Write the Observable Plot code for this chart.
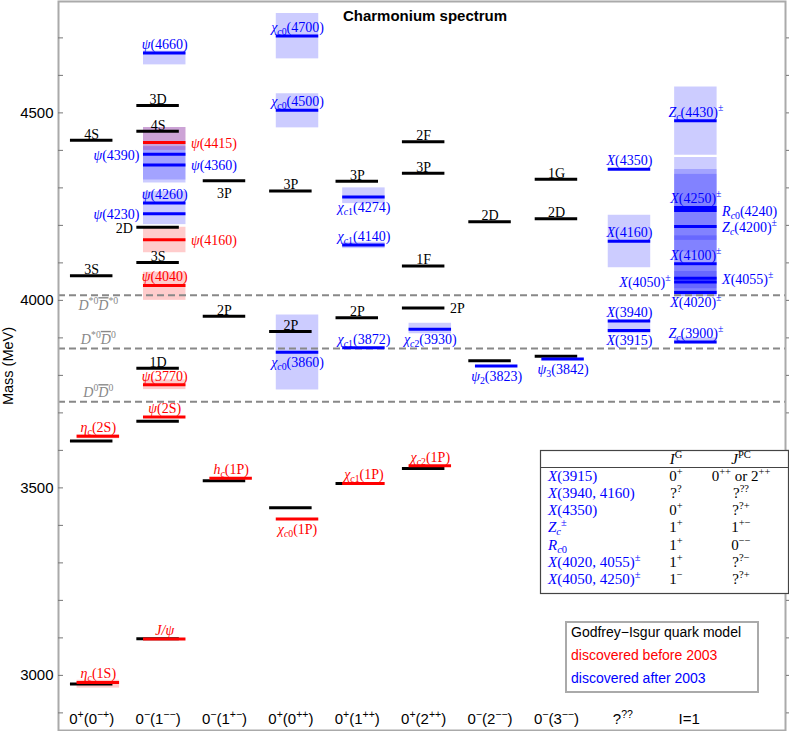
<!DOCTYPE html>
<html><head><meta charset="utf-8">
<script src="https://cdn.jsdelivr.net/npm/d3@7"></script>
<script src="https://cdn.jsdelivr.net/npm/@observablehq/plot@0.6"></script>
<style>
body{margin:0;background:#fff;}
#chart{position:relative;width:789px;height:731px;}
</style></head><body><div id="chart"></div>
<script>
// Markup: ~..~ italic, #..# overline, _{..} subscript, ^{..} superscript
const columns = ["0^{+}(0^{−+})", "0^{−}(1^{−−})", "0^{−}(1^{+−})", "0^{+}(0^{++})", "0^{+}(1^{++})",
  "0^{+}(2^{++})", "0^{−}(2^{−−})", "0^{−}(3^{−−})", "?^{??}", "I=1"];

// Godfrey–Isgur quark model: [column, mass MeV, label, label side]
const models = [
  [1, 4427, "4S", "a"], [1, 4066, "3S", "a"], [1, 3625, "", ""], [1, 2977, "", ""],
  [2, 4520, "3D", "a"], [2, 4451, "4S", "a"], [2, 4195, "2D", "l"], [2, 4101, "3S", "a"],
  [2, 3819, "1D", "a"], [2, 3678, "", ""], [2, 3098, "", ""],
  [3, 4319, "3P", "b"], [3, 3958, "2P", "a"], [3, 3519, "", ""],
  [4, 4292, "3P", "a"], [4, 3917, "2P", "a"], [4, 3447, "", ""],
  [5, 4318, "3P", "a"], [5, 3954, "2P", "a"], [5, 3512, "", ""],
  [6, 4423, "2F", "a"], [6, 4339, "3P", "a"], [6, 4092, "1F", "a"], [6, 3980, "2P", "r"], [6, 3552, "", ""],
  [7, 4210, "2D", "a"], [7, 3839, "", ""],
  [8, 4323, "1G", "a"], [8, 4218, "2D", "a"], [8, 3851, "", ""]
];

// discovered before 2003
const pre2003 = [
  [1, 3638, "~η~_{~c~}(2S)", "a"], [1, 2981, "~η~_{~c~}(1S)", "a"],
  [2, 4421, "~ψ~(4415)", "r"], [2, 4162, "~ψ~(4160)", "r"], [2, 4040, "~ψ~(4040)", "a"],
  [2, 3775, "~ψ~(3770)", "a"], [2, 3689, "~ψ~(2S)", "a"], [2, 3097, "~J/ψ~", "a"],
  [3, 3526, "~h~_{~c~}(1P)", "a"],
  [4, 3417, "~χ~_{~c~0}(1P)", "b"],
  [5, 3512, "~χ~_{~c~1}(1P)", "a"],
  [6, 3559, "~χ~_{~c~2}(1P)", "a"]
];

// discovered after 2003
const post2003 = [
  [2, 4660, "~ψ~(4660)", "a"], [2, 4390, "~ψ~(4390)", "l"], [2, 4361, "~ψ~(4360)", "r"],
  [2, 4260, "~ψ~(4260)", "a"], [2, 4231, "~ψ~(4230)", "l"],
  [4, 4705, "~χ~_{~c~0}(4700)", "a"], [4, 4507, "~χ~_{~c~0}(4500)", "a"], [4, 3862, "~χ~_{~c~0}(3860)", "b"],
  [5, 4276, "~χ~_{~c~1}(4274)", "b"], [5, 4148, "~χ~_{~c~1}(4140)", "a"], [5, 3874, "~χ~_{~c~1}(3872)", "a"],
  [6, 3923, "~χ~_{~c~2}(3930)", "b"],
  [7, 3825, "~ψ~_{2}(3823)", "b"],
  [8, 3844, "~ψ~_{3}(3842)", "b"],
  [9, 4350, "~X~(4350)", "a"], [9, 4158, "~X~(4160)", "a"], [9, 3945, "~X~(3940)", "a"], [9, 3920, "~X~(3915)", "b"],
  [10, 4479, "~Z~_{~c~}(4430)^{±}", "a"], [10, 4248, "~X~(4250)^{±}", "a"], [10, 4240, "~R~_{~c~0}(4240)", "r"],
  [10, 4197, "~Z~_{~c~}(4200)^{±}", "r"], [10, 4098, "~X~(4100)^{±}", "a"], [10, 4059, "~X~(4055)^{±}", "r"],
  [10, 4049, "~X~(4050)^{±}", "l"], [10, 4021, "~X~(4020)^{±}", "b"], [10, 3889, "~Z~_{~c~}(3900)^{±}", "a"]
];

// mass ranges (widths): [column, low, high]
const redBands = [
  [1, 2966, 2987], [1, 3631, 3642], [2, 4400, 4461], [2, 4127, 4195], [2, 4000, 4075], [2, 3762, 3788]
];
const blueBands = [
  [2, 4628, 4665], [2, 4321, 4461], [2, 4313, 4410], [2, 4202, 4290],
  [4, 4644, 4765], [4, 4460, 4551], [4, 3761, 3961],
  [5, 4258, 4300], [5, 4138, 4155], [6, 3911, 3939],
  [9, 4087, 4227], [9, 3911, 3947],
  [10, 4387, 4569], [10, 4011, 4381], [10, 4129, 4349], [10, 4160, 4336], [10, 4020, 4172],
  [10, 4031, 4077], [10, 4010, 4092], [10, 4017, 4025], [10, 3884, 3900]
];

// open-charm thresholds: [mass, label, side]
const thresholds = [
  [4014, "~D~^{*0}~#D#~^{*0}", "b"], [3872, "~D~^{*0}~#D#~^{0}", "a"], [3730, "~D~^{0}~#D#~^{0}", "a"]
];

const yLabels = [3000, 3500, 4000, 4500];
const yMinor = d3.range(2900, 4800, 100);

const tableHeader = ["~I~^{G}", "~J~^{PC}"];
const tableRows = [
  ["~X~(3915)", "0^{+}", "0^{++} or 2^{++}"],
  ["~X~(3940, 4160)", "?^{?}", "?^{??}"],
  ["~X~(4350)", "0^{+}", "?^{?+}"],
  ["~Z~_{~c~}^{±}", "1^{+}", "1^{+−}"],
  ["~R~_{~c~0}", "1^{+}", "0^{−−}"],
  ["~X~(4020, 4055)^{±}", "1^{+}", "?^{?−}"],
  ["~X~(4050, 4250)^{±}", "1^{−}", "?^{?+}"]
];
const legendItems = [["Godfrey−Isgur quark model", "black"], ["discovered before 2003", "red"], ["discovered after 2003", "blue"]];

const HW = 0.32, OFF = 0.1;
const SERIF = "'Liberation Serif','Times New Roman',serif";
const SANS = "'Liberation Sans',Arial,Helvetica,sans-serif";

const toObj = (rows, group) => rows.map(([col, mass, label, pos]) => ({col, mass, label, pos, group}));
const black = toObj(models, "model"), red = toObj(pre2003, "pre"), blue = toObj(post2003, "post");
const xc = d => d.group === "model" ? d.col : d.col + OFF;

function labelMarks(data, fill) {
  const isModel = data[0].group === "model";
  const f = p => data.filter(d => d.label && d.pos === p);
  const common = {y: "mass", text: "label", fill, fontSize: 14, fontFamily: SERIF};
  return [
    Plot.text(f("a"), {...common, x: xc, dy: isModel ? -6 : -8.5}),
    Plot.text(f("b"), {...common, x: xc, dy: isModel ? 12.5 : 10.5}),
    Plot.text(f("l"), {...common, x: d => xc(d) - HW, textAnchor: "end", dx: -4, dy: 1}),
    Plot.text(f("r"), {...common, x: d => xc(d) + HW, textAnchor: "start", dx: 5, dy: 1})
  ];
}
const bars = (data, stroke) => Plot.ruleY(data, {y: "mass", x1: d => xc(d) - HW, x2: d => xc(d) + HW, stroke, strokeWidth: 3});
const bandRects = (data, fill) => Plot.rect(data, {x1: d => d[0] + OFF - HW, x2: d => d[0] + OFF + HW, y1: d => d[1], y2: d => d[2], fill, fillOpacity: 0.2});

const chart = Plot.plot({
  width: 789, height: 731,
  marginLeft: 58, marginRight: 4, marginTop: 1, marginBottom: 1,
  x: {domain: [0.5, 11.45], axis: null},
  y: {domain: [2853, 4797]},
  style: {background: "white", fontFamily: SANS},
  marks: [
    bandRects(redBands, "red"),
    bandRects(blueBands, "blue"),
    Plot.ruleY(thresholds, {y: d => d[0], stroke: "#888", strokeWidth: 2, strokeDasharray: "7,4"}),
    bars(black, "black"), bars(red, "red"), bars(blue, "blue"),
    ...labelMarks(black, "black"), ...labelMarks(red, "red"), ...labelMarks(blue, "blue"),
    Plot.text(thresholds.filter(d => d[2] === "a"), {x: () => 1 + OFF, y: d => d[0], text: d => d[1], fill: "#888", fontSize: 14, fontFamily: SERIF, dy: -9}),
    Plot.text(thresholds.filter(d => d[2] === "b"), {x: () => 1 + OFF, y: d => d[0], text: d => d[1], fill: "#888", fontSize: 14, fontFamily: SERIF, dy: 10.5}),
    Plot.text(columns, {x: (d, i) => i + 1, text: d => d, frameAnchor: "bottom", lineAnchor: "middle", dy: -11, fontSize: 15, fontFamily: SANS, fill: "black"}),
    Plot.text(["Charmonium spectrum"], {frameAnchor: "top", lineAnchor: "middle", dy: 15, dx: 3, fontWeight: "bold", fontSize: 15, fontFamily: SANS, fill: "black"}),
    Plot.frame({stroke: "#aaa", strokeWidth: 2}),
    Plot.axisY({ticks: yLabels, tickSize: 0, tickPadding: 5, tickFormat: d => String(d), fontSize: 15, fontFamily: SANS, label: null}),
    Plot.axisY({ticks: yMinor, tickSize: 5, insetLeft: 5, tickFormat: () => "", label: null, stroke: "#777"}),
    Plot.axisY({anchor: "right", ticks: yMinor, tickSize: 4, tickFormat: () => "", label: null, stroke: "#777"})
  ]
});
document.getElementById("chart").appendChild(chart);

// ---- markup rendering ----
function parse(str, sh = null, state = {it: false, ov: false}, out = []) {
  let buf = "";
  const flush = () => { if (buf) out.push({t: buf, it: state.it, ov: state.ov, sh}); buf = ""; };
  for (let i = 0; i < str.length; i++) {
    const c = str[i];
    if (c === "~") { flush(); state.it = !state.it; }
    else if (c === "#") { flush(); state.ov = !state.ov; }
    else if ((c === "_" || c === "^") && str[i + 1] === "{") {
      flush();
      const j = str.indexOf("}", i + 2);
      parse(str.slice(i + 2, j), c === "_" ? "sub" : "sup", state, out);
      i = j;
    } else buf += c;
  }
  flush();
  return out;
}
const NS = "http://www.w3.org/2000/svg";
function renderSVG(el, str) {
  const fs = parseFloat(getComputedStyle(el).fontSize) || 14;
  el.textContent = "";
  for (const s of parse(str)) {
    const t = document.createElementNS(NS, "tspan");
    t.textContent = s.t;
    if (s.it) t.setAttribute("font-style", "italic");
    if (s.ov) t.setAttribute("text-decoration", "overline");
    if (s.sh) {
      t.setAttribute("font-size", (fs * 0.7).toFixed(2));
      t.setAttribute("baseline-shift", s.sh === "sub" ? (-0.22 * fs).toFixed(2) : (0.4 * fs).toFixed(2));
    }
    el.appendChild(t);
  }
}
const svg = d3.select(chart.tagName.toLowerCase() === "svg" ? chart : chart.querySelector("svg"));

// y-axis title
svg.append("text").attr("transform", "translate(13,366) rotate(-90)").attr("text-anchor", "middle")
  .attr("font-family", SANS).attr("font-size", 14.5).attr("fill", "black").text("Mass (MeV)");

// table of quantum numbers
const tg = svg.append("g").attr("font-family", SERIF).attr("font-size", 15).attr("text-anchor", "start");
tg.append("rect").attr("x", 540.5).attr("y", 450.5).attr("width", 248).attr("height", 143)
  .attr("fill", "white").attr("stroke", "#444").attr("stroke-width", 1.2);
tg.append("line").attr("x1", 540.5).attr("x2", 788.5).attr("y1", 467.5).attr("y2", 467.5).attr("stroke", "#444").attr("stroke-width", 1.2);
const colX = [676, 741];
tableHeader.forEach((h, j) => tg.append("text").attr("x", colX[j]).attr("y", 464).attr("text-anchor", "middle").attr("fill", "black").text(h));
tableRows.forEach((r, i) => {
  const yb = 480.5 + i * 17.33;
  tg.append("text").attr("x", 548).attr("y", yb).attr("text-anchor", "start").attr("fill", "blue").text(r[0]);
  tg.append("text").attr("x", colX[0]).attr("y", yb).attr("text-anchor", "middle").attr("fill", "black").text(r[1]);
  tg.append("text").attr("x", colX[1]).attr("y", yb).attr("text-anchor", "middle").attr("fill", "black").text(r[2]);
});

// legend
const lg = svg.append("g").attr("font-family", SANS).attr("font-size", 14).attr("text-anchor", "start");
lg.append("rect").attr("x", 566).attr("y", 622).attr("width", 192).attr("height", 70)
  .attr("fill", "white").attr("stroke", "#aaa").attr("stroke-width", 2);
legendItems.forEach(([t, c], i) => lg.append("text").attr("x", 571).attr("y", 637 + i * 23).attr("text-anchor", "start").attr("fill", c).text(t));

// apply markup
svg.selectAll("text").each(function () {
  const s = this.textContent;
  if (/[~#]|[_^]\{/.test(s)) renderSVG(this, s);
});
</script></body></html>
